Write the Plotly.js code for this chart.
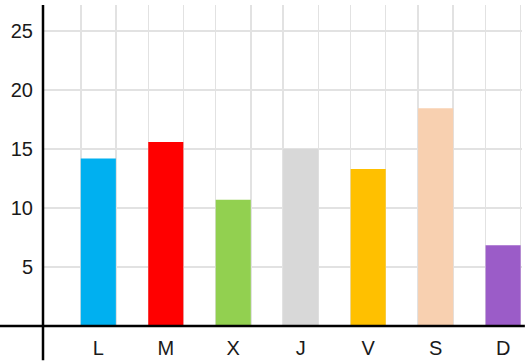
<!DOCTYPE html>
<html><head><meta charset="utf-8">
<script src="https://cdn.plot.ly/plotly-3.0.1.min.js"></script>
<style>html,body{margin:0;padding:0;background:#fff}#c{width:532px;height:364px}</style>
</head><body><div id="c"></div>
<script>
const categories = ["L","M","X","J","V","S","D"];
const values = [14.2, 15.6, 10.7, 15.0, 13.3, 18.45, 6.85];
const colors = ["#00B0F0","#FF0000","#92D050","#D8D8D8","#FFC000","#F8D0B0","#9B5CC8"];
const yTicks = [5,10,15,20,25];

const barWidth = 0.52;
const idx = categories.map((c,i)=>i);
const edges = [];
idx.forEach(i=>{edges.push(i-barWidth/2, i+barWidth/2);});
const xr = [-0.82, 6.28];

const data = [{
  type:'bar', x:categories, y:values, width:barWidth,
  marker:{color:colors, line:{width:0}}, hoverinfo:'skip'
},{
  type:'scatter', x:[xr[0]], y:[null], xaxis:'x2', showlegend:false, hoverinfo:'skip'
}];

const font = {family:'"Liberation Sans", Arial, sans-serif', size:20, color:'#1a1a1a'};
const layout = {
  width:532, height:364,
  margin:{l:43, r:10, t:5, b:38},
  paper_bgcolor:'#fff', plot_bgcolor:'#fff',
  showlegend:false,
  xaxis:{type:'category', range:xr, showgrid:false, zeroline:false, showline:false,
         ticks:'', tickfont:font, ticklabelstandoff:8},
  xaxis2:{overlaying:'x', range:xr, tickvals:edges, showticklabels:false, ticks:'',
          showgrid:true, gridcolor:'#e2e2e2', gridwidth:1.5, zeroline:false, showline:false},
  yaxis:{range:[0,27.2], tickvals:yTicks, showgrid:true, gridcolor:'#e2e2e2', gridwidth:1.5,
         zeroline:false, showline:false, ticks:'', tickfont:font, ticklabelstandoff:9},
  shapes:[
    {type:'line', xref:'paper', yref:'paper', x0:0, x1:0, y0:-0.107, y1:1.0,
     line:{color:'#000', width:2.5}},
    {type:'line', xref:'paper', yref:'paper', x0:-0.09, x1:1.006, y0:0, y1:0,
     line:{color:'#000', width:2.5}}
  ]
};
Plotly.newPlot('c', data, layout, {displayModeBar:false, staticPlot:true});
</script></body></html>
